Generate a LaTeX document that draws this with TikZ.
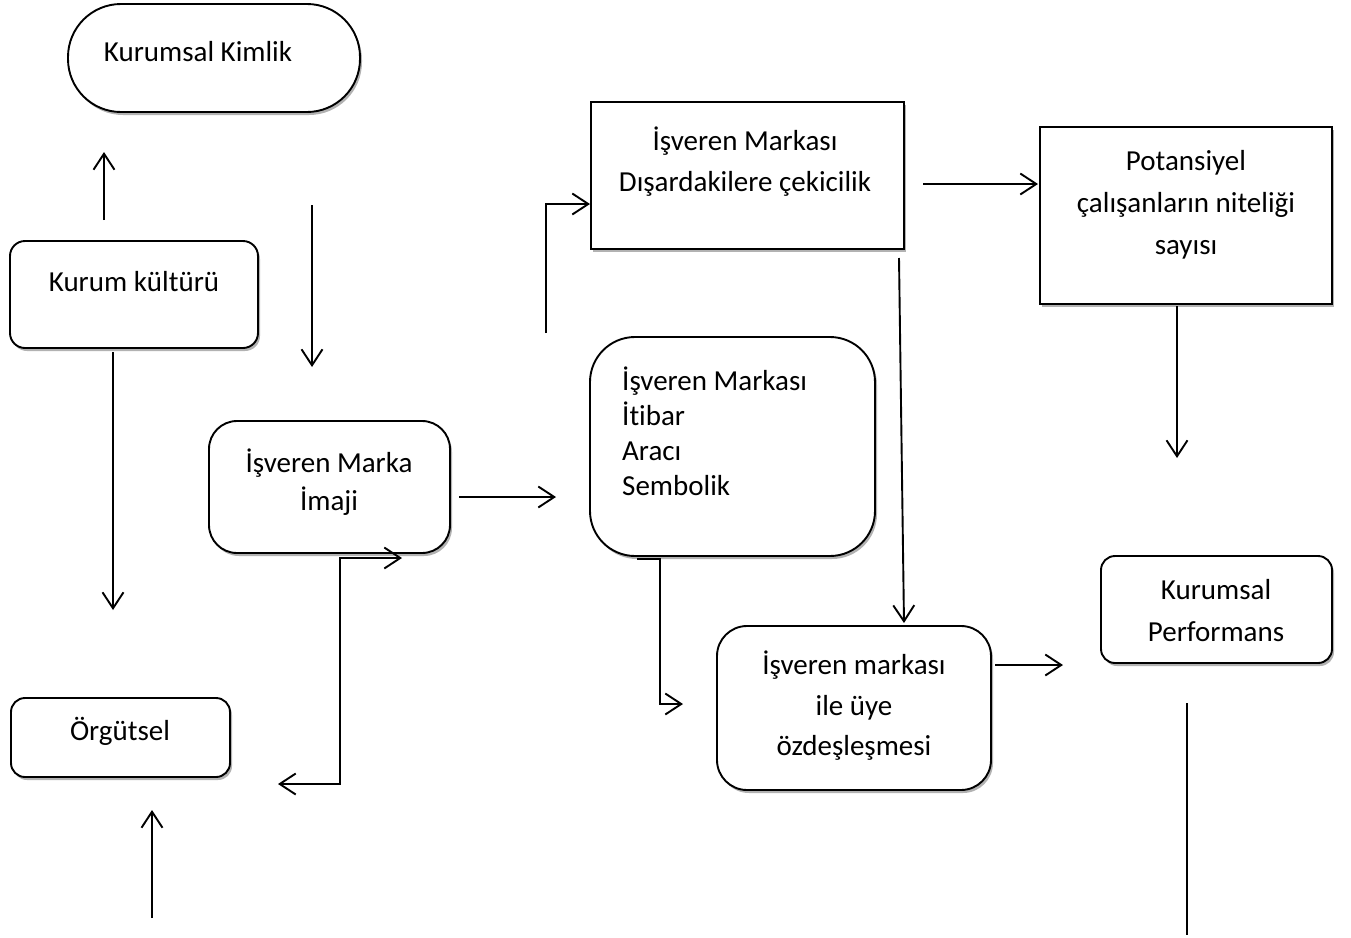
\documentclass[tikz,border=0pt]{standalone}
\usepackage{fontspec}
\setmainfont{Carlito}[Ligatures={NoCommon}]
\usetikzlibrary{arrows.meta,shadows}
\begin{document}
\begin{tikzpicture}[x=1pt,y=-1pt,
  box/.style={draw, line width=1.9pt, fill=white, inner sep=0pt,
    drop shadow={shadow xshift=2pt, shadow yshift=-3pt, opacity=0.3, fill=black}},
  lbl/.style={font=\fontsize{29}{35}\selectfont, inner sep=0pt, align=center},
  conn/.style={line width=1.9pt, -{Straight Barb[length=16pt, width=21pt, line width=1.9pt]}},
  dconn/.style={line width=1.9pt, {Straight Barb[length=16pt, width=21pt, line width=1.9pt]}-{Straight Barb[length=16pt, width=21pt, line width=1.9pt]}},
  plain/.style={line width=1.9pt}
]
\useasboundingbox (0,0) rectangle (1351,937);

% boxes
\node[box, rounded corners=53pt, minimum width=292pt, minimum height=108pt] (kimlik) at (214,58) {};
\node[box, rounded corners=15pt, minimum width=248pt, minimum height=107pt] (kultur) at (134,294.5) {};
\node[box, rounded corners=14pt, minimum width=219pt, minimum height=79pt] (orgut) at (120.5,737.5) {};
\node[box, rounded corners=28pt, minimum width=241pt, minimum height=132pt] (imaji) at (329.5,487) {};
\node[box, minimum width=313pt, minimum height=147pt] (cekici) at (747.5,175.5) {};
\node[box, minimum width=292pt, minimum height=177pt] (potans) at (1186,215.5) {};
\node[box, rounded corners=45pt, minimum width=285pt, minimum height=219pt] (itibar) at (732.5,446.5) {};
\node[box, rounded corners=30pt, minimum width=274pt, minimum height=164pt] (ozdes) at (854,708) {};
\node[box, rounded corners=14pt, minimum width=231pt, minimum height=107pt] (perf) at (1216.5,609.5) {};

% texts
\node[lbl] (kimlik-t) at (198,52) {Kurumsal Kimlik};
\node[lbl] (kultur-t) at (134,282) {Kurum kültürü};
\node[lbl] (orgut-t) at (120,731) {Örgütsel};
\node[lbl, font=\fontsize{29}{38}\selectfont] (imaji-t) at (329,482) {İşveren Marka\\İmaji};
\node[lbl, font=\fontsize{29}{41}\selectfont] (cekici-t) at (745,162) {İşveren Markası\\Dışardakilere çekicilik};
\node[lbl, font=\fontsize{29}{42}\selectfont] (potans-t) at (1186,205) {Potansiyel\\çalışanların niteliği\\sayısı};
\node[lbl, align=left, anchor=west, font=\fontsize{29}{35}\selectfont] (itibar-t) at (622,431) {İşveren Markası\\İtibar\\Aracı\\Sembolik};
\node[lbl, font=\fontsize{29}{40.5}\selectfont] (ozdes-t) at (854,706) {İşveren markası\\ile üye\\özdeşleşmesi};
\node[lbl, font=\fontsize{29}{42}\selectfont] (perf-t) at (1216,611) {Kurumsal\\Performans};

% connector end points
\coordinate (a1) at (104,220); \coordinate (a2) at (104,152);
\coordinate (b1) at (312,205); \coordinate (b2) at (312,367);
\coordinate (c1) at (113,352); \coordinate (c2) at (113,610);
\coordinate (d1) at (152,918); \coordinate (d2) at (152,810);
\coordinate (e1) at (459,497); \coordinate (e2) at (556,497);
\coordinate (f1) at (278,784); \coordinate (f2) at (340,784); \coordinate (f3) at (340,558); \coordinate (f4) at (402,558);
\coordinate (g1) at (546,333); \coordinate (g2) at (546,204); \coordinate (g3) at (590,204);
\coordinate (h1) at (923,184); \coordinate (h2) at (1038,184);
\coordinate (i1) at (899,258); \coordinate (i2) at (904,623);
\coordinate (j1) at (637,559); \coordinate (j2) at (660,559); \coordinate (j3) at (660,704); \coordinate (j4) at (683,704);
\coordinate (k1) at (995,665); \coordinate (k2) at (1063,665);
\coordinate (l1) at (1177,306); \coordinate (l2) at (1177,458);
\coordinate (m1) at (1187,703); \coordinate (m2) at (1187,935);

% connectors
\draw[conn] (a1) -- (a2);
\draw[conn] (b1) -- (b2);
\draw[conn] (c1) -- (c2);
\draw[conn] (d1) -- (d2);
\draw[conn] (e1) -- (e2);
\draw[dconn] (f1) -- (f2) -- (f3) -- (f4);
\draw[conn] (g1) -- (g2) -- (g3);
\draw[conn] (h1) -- (h2);
\draw[conn] (i1) -- (i2);
\draw[conn] (j1) -- (j2) -- (j3) -- (j4);
\draw[conn] (k1) -- (k2);
\draw[conn] (l1) -- (l2);
\draw[plain] (m1) -- (m2);
\end{tikzpicture}
\end{document}
